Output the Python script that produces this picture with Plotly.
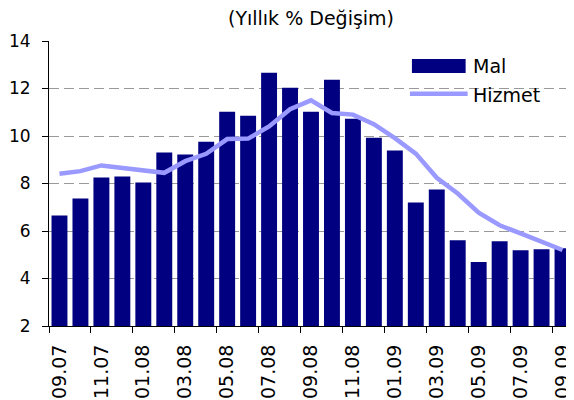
import plotly.graph_objects as go

# monthly data, 09.07 .. 09.09
months = ["09.07", "10.07", "11.07", "12.07", "01.08", "02.08", "03.08", "04.08",
          "05.08", "06.08", "07.08", "08.08", "09.08", "10.08", "11.08", "12.08",
          "01.09", "02.09", "03.09", "04.09", "05.09", "06.09", "07.09", "08.09", "09.09"]
mal = [6.65, 7.37, 8.25, 8.29, 8.04, 9.30, 9.22, 9.76, 11.02, 10.85, 12.66, 12.03,
       11.02, 12.37, 10.73, 9.93, 9.39, 7.20, 7.75, 5.61, 4.69, 5.57, 5.19, 5.23, 5.27]
hizmet = [8.41, 8.52, 8.76, 8.66, 8.57, 8.45, 8.94, 9.25, 9.87, 9.89, 10.40, 11.13,
          11.50, 10.97, 10.90, 10.50, 9.91, 9.26, 8.24, 7.58, 6.77, 6.24, 5.90, 5.57, 5.20]

MAL_COLOR = "#000080"
HIZMET_COLOR = "#9999FF"
FONT = "DejaVu Sans, Arial"

x = list(range(len(months)))
tick_idx = x[::2]
tick_text = [months[i] for i in tick_idx]

fig = go.Figure()
fig.add_trace(go.Bar(x=x, y=mal, name="Mal", marker_color=MAL_COLOR,
                     marker_line_width=0))
fig.add_trace(go.Scatter(x=x, y=hizmet, name="Hizmet", mode="lines",
                         line=dict(color=HIZMET_COLOR, width=4.5)))

# page body has an 8px margin, so the figure is sized a little smaller
fig.update_layout(
    width=566, height=392,
    margin=dict(l=38, r=1, t=33, b=65),
    plot_bgcolor="white", paper_bgcolor="white",
    font=dict(family=FONT, size=17, color="black"),
    bargap=0.24,
    showlegend=False,
    title=dict(text="(Yıllık % Değişim)", x=0.5, xref="paper",
               y=0.974, yref="container", yanchor="middle",
               font=dict(size=19)),
)

# legend drawn by hand so the keys look like the original
fig.add_shape(type="rect", xref="paper", yref="paper",
              x0=0.6926, x1=0.7951, y0=0.888, y1=0.937,
              fillcolor=MAL_COLOR, line_width=0)
fig.add_shape(type="line", xref="paper", yref="paper",
              x0=0.6888, x1=0.7989, y0=0.8147, y1=0.8147,
              line=dict(color=HIZMET_COLOR, width=4.5))
fig.add_annotation(text="Mal", xref="paper", yref="paper", x=0.8046, y=0.9126,
                   xanchor="left", yanchor="middle", showarrow=False,
                   font=dict(size=19))
fig.add_annotation(text="Hizmet", xref="paper", yref="paper", x=0.8046, y=0.811,
                   xanchor="left", yanchor="middle", showarrow=False,
                   font=dict(size=19))

fig.update_xaxes(
    range=[-0.5, len(months) - 0.5],
    tickmode="array", tickvals=tick_idx, ticktext=tick_text,
    tickangle=-90, ticks="", showgrid=False, tickfont=dict(size=19),
    ticklabelstandoff=10,
    showline=True, linecolor="black", linewidth=1,
    minor=dict(ticks="outside", tickmode="linear", tick0=-0.5, dtick=2,
               ticklen=6, tickcolor="black", showgrid=False),
)
fig.update_yaxes(
    range=[2, 14], dtick=2, ticks="outside", ticklen=6, tickcolor="black",
    ticklabelstandoff=8,
    showline=True, linecolor="black", linewidth=1,
    showgrid=True, gridcolor="#999999", griddash="10px,5px", gridwidth=1,
    zeroline=False,
)

fig.write_html("out.html")
